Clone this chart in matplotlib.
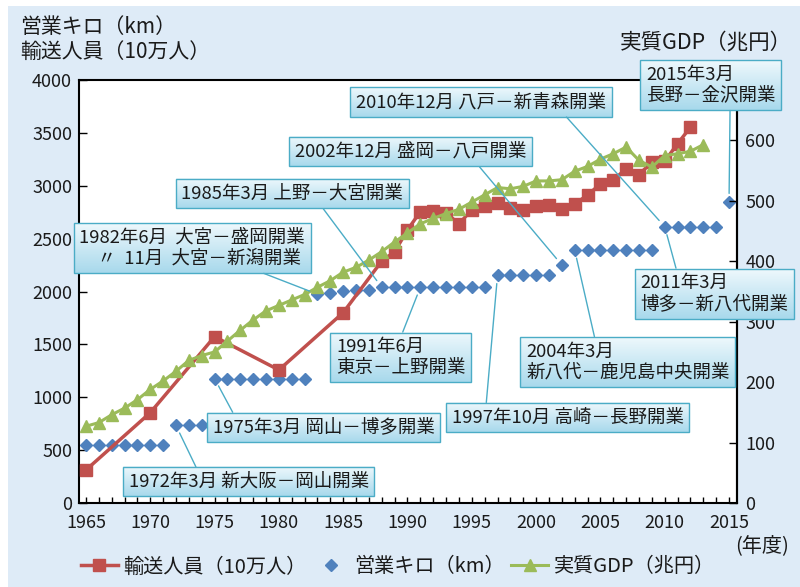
import numpy as np
import matplotlib
matplotlib.use("Agg")
import matplotlib.pyplot as plt
from matplotlib.patches import Rectangle
from matplotlib.colors import LinearSegmentedColormap

plt.rcParams['font.family'] = ['Noto Sans CJK JP', 'DejaVu Sans']

# ====== DATA ======
# 営業キロ (km), every fiscal year
km_years = list(range(1965, 2016))
km_values = [553, 553, 553, 553, 553, 553, 553,
             733, 733, 733,
             1177, 1177, 1177, 1177, 1177, 1177, 1177, 1177,
             1975, 1985, 2005, 2012, 2012,
             2040, 2040, 2040, 2040, 2040, 2040, 2040, 2040, 2040,
             2153, 2153, 2153, 2153, 2153,
             2251,
             2392, 2392, 2392, 2392, 2392, 2392, 2392,
             2613, 2613, 2613, 2613, 2613,
             2849]

# 輸送人員 (10万人)
rider_years = [1965, 1970, 1975, 1980, 1985, 1988, 1989, 1990, 1991, 1992,
               1993, 1994, 1995, 1996, 1997, 1998, 1999, 2000, 2001, 2002,
               2003, 2004, 2005, 2006, 2007, 2008, 2009, 2010, 2011, 2012]
rider_values = [312, 854, 1573, 1258, 1800, 2288, 2376, 2582, 2755, 2764,
                2745, 2638, 2775, 2804, 2837, 2794, 2774, 2806, 2818, 2782,
                2827, 2912, 3017, 3054, 3160, 3106, 3223, 3232, 3398, 3553]

# 実質GDP (兆円)
gdp_years = list(range(1965, 2014))
gdp_values = [127, 133, 146, 157, 171, 188, 202, 218, 236, 244,
              250, 268, 286, 303, 318, 327, 336, 345, 357, 368,
              382, 390, 402, 416, 432, 447, 462, 471, 479, 486,
              498, 510, 522, 520, 524, 533, 533, 535, 549, 557,
              569, 578, 589, 567, 556, 575, 578, 582, 593]

# opening notes: text and the km point each one points at
note_texts = ["2015年3月\n長野－金沢開業",
              "2010年12月 八戸－新青森開業",
              "2002年12月 盛岡－八戸開業",
              "1985年3月 上野－大宮開業",
              "1982年6月  大宮－盛岡開業\n　〃  11月  大宮－新潟開業",
              "1991年6月\n東京－上野開業",
              "2004年3月\n新八代－鹿児島中央開業",
              "1997年10月 高崎－長野開業",
              "1975年3月 岡山－博多開業",
              "1972年3月 新大阪－岡山開業",
              "2011年3月\n博多－新八代開業"]
note_targets = [2015, 2010, 2002, 1988, 1983, 1991, 2003, 1997, 1975, 1972, 2010]

# ====== LAYOUT ======
# box centre (axes fraction) and where the leader leaves the box
note_pos = [(0.960, 0.988), (0.611, 0.948), (0.504, 0.830), (0.324, 0.731),
            (0.172, 0.603), (0.489, 0.344), (0.834, 0.333), (0.743, 0.202),
            (0.372, 0.179), (0.258, 0.050), (0.966, 0.495)]
note_rel = [(0.65, 0), (0.82, 0), (0.776, 0), (0.62, 0), (0.748, 0),
            (0.497, 1), (0.343, 1), (0.146, 1), (0.104, 1), (0.292, 1), (0.25, 1)]

red = '#c0504d'
blue = '#4f81bd'
green = '#9bbb59'
teal = '#4bacc6'
txt = '#1a1a1a'

fig = plt.figure(figsize=(8, 5.87), dpi=100, facecolor='white')
fig.add_artist(Rectangle((8 / 800, 0), 792 / 800, 581 / 587, transform=fig.transFigure,
                         fc='#deebf7', ec='none', zorder=-10))

ax = fig.add_axes([0.09875, 0.1431, 0.8225, 0.7206])
ax.set_facecolor('white')
ax2 = ax.twinx()

l_km, = ax.plot(km_years, km_values, ls='none', marker='D', ms=6.5, color=blue, zorder=3)
l_rid, = ax.plot(rider_years, rider_values, color=red, lw=2.5, marker='s', ms=8.5, zorder=4)
l_gdp, = ax2.plot(gdp_years, gdp_values, color=green, lw=2.2, marker='^', ms=9, zorder=3)

ax.set_xlim(1964.46, 2015.62)
ax.set_ylim(0, 4000)
ax2.set_ylim(0, 700)
ax.set_xticks(range(1965, 2016, 5))
ax.set_xticks(range(1965, 2016), minor=True)
ax.set_yticks(range(0, 4001, 500))
ax2.set_yticks(range(0, 601, 100))

ax.tick_params(axis='x', which='both', direction='in', length=4, width=1, pad=8,
               labelsize=13, labelcolor=txt)
ax.tick_params(axis='y', direction='in', length=6, width=1, pad=5, labelsize=13, labelcolor=txt)
ax2.tick_params(axis='y', direction='in', length=6, width=1, pad=6, labelsize=13, labelcolor=txt)

for s in ax.spines.values():
    s.set_linewidth(1.5)
for k in ['left', 'top', 'bottom']:
    ax2.spines[k].set_visible(False)
ax2.spines['right'].set_linewidth(1.5)

# ====== NOTES ======
notes = []
for t, yr, pos, rel in zip(note_texts, note_targets, note_pos, note_rel):
    kv = km_values[km_years.index(yr)]
    a = ax2.annotate(t, xy=(yr, kv), xycoords=ax.transData, xytext=pos,
                     textcoords='axes fraction', ha='center', va='center',
                     multialignment='left', fontsize=13.3, color=txt,
                     bbox=dict(boxstyle='square,pad=0.3', fc='none', ec=teal, lw=1),
                     arrowprops=dict(arrowstyle='-', color=teal, lw=1, relpos=rel,
                                     shrinkA=0, shrinkB=6),
                     zorder=10, annotation_clip=False)
    notes.append(a)

# gradient fill behind the boxes
fig.canvas.draw()
rend = fig.canvas.get_renderer()
cmap = LinearSegmentedColormap.from_list('box', ['#eef8fc', '#a8d9ec'])
grad = np.linspace(0, 1, 64).reshape(-1, 1)
ax.set_autoscale_on(False)
ax2.set_autoscale_on(False)
inv = ax2.transData.inverted()
for a in notes:
    bb = a.get_bbox_patch().get_window_extent(rend)
    (x0, y0), (x1, y1) = inv.transform([[bb.x0, bb.y0], [bb.x1, bb.y1]])
    ax2.imshow(grad, extent=(x0, x1, y0, y1), aspect='auto', cmap=cmap,
               zorder=9, clip_on=False, interpolation='bilinear')
ax.set_xlim(1964.46, 2015.62)
ax2.set_ylim(0, 700)

# ====== TITLES / LEGEND ======
fig.text(20 / 800, 1 - 27 / 587, "営業キロ（km）", ha='left', va='center', fontsize=15, color=txt)
fig.text(20 / 800, 1 - 52 / 587, "輸送人員（10万人）", ha='left', va='center', fontsize=15, color=txt)
fig.text(620 / 800, 1 - 43 / 587, "実質GDP（兆円）", ha='left', va='center', fontsize=15.5, color=txt)
fig.text(762 / 800, 1 - 546 / 587, "(年度)", ha='center', va='center', fontsize=14.5, color=txt)

fig.legend([l_rid, l_km, l_gdp], ["輸送人員（10万人）", "営業キロ（km）", "実質GDP（兆円）"],
           loc='center', bbox_to_anchor=(0.497, 1 - 567 / 587), ncol=3, frameon=False,
           fontsize=14.5, handlelength=1.85, handletextpad=0.25, columnspacing=0.3,
           labelcolor=txt)

fig.savefig("out.png", dpi=100, facecolor=fig.get_facecolor())
